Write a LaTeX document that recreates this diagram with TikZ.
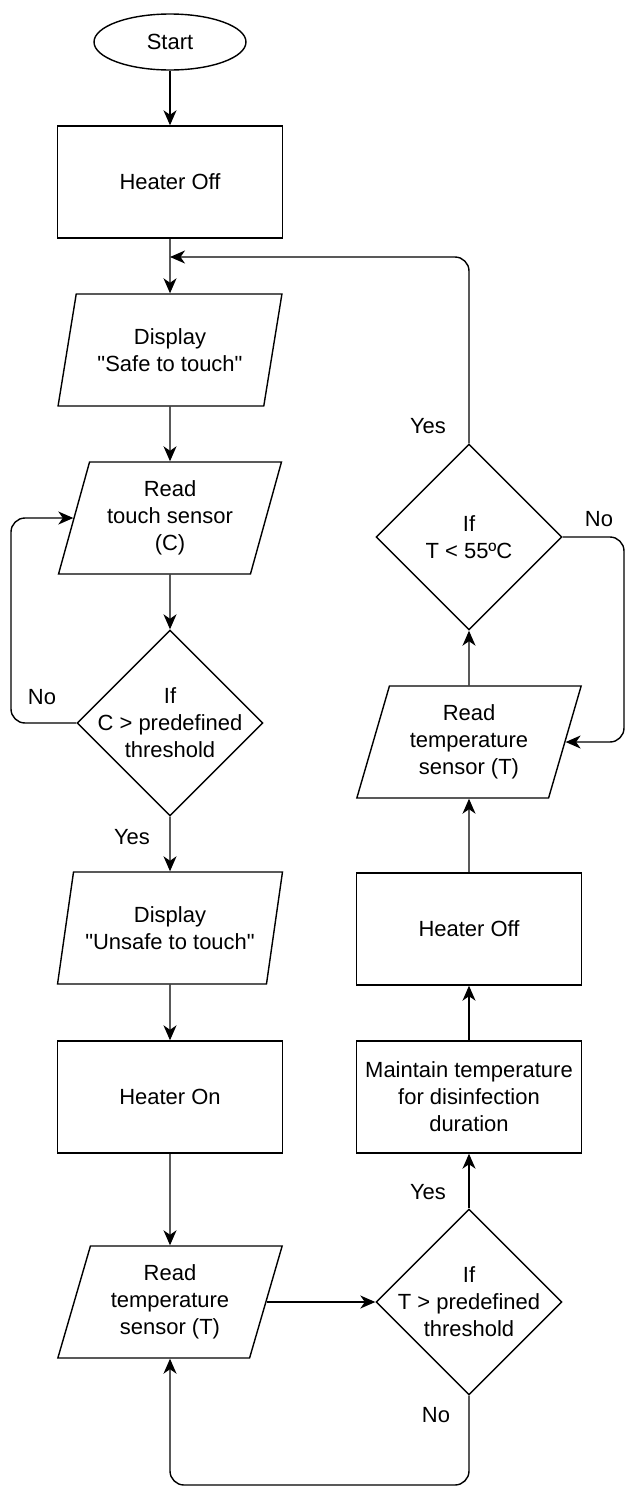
\documentclass[tikz,border=0pt]{standalone}
\usepackage{fontspec}
\setmainfont{Liberation Sans}[Ligatures=TeXOff]
\usetikzlibrary{shapes.geometric,arrows.meta}
\begin{document}
\begin{tikzpicture}[x=0.02cm,y=-0.02cm,
  every node/.style={font=\fontsize{12.5}{15.4}\selectfont, align=center},
  line/.style={line width=0.8pt},
  arr/.style={line, -{Stealth[length=3mm,width=2.6mm,inset=0.9mm]}},
  box/.style={draw, line width=0.8pt, rectangle, minimum width=4.5cm, minimum height=2.24cm, inner sep=0pt},
  io/.style={draw, line width=0.8pt, trapezium, trapezium left angle=72, trapezium right angle=108, trapezium stretches=true, minimum width=4.5cm, minimum height=2.24cm, inner sep=0pt},
  dec/.style={draw, line width=0.8pt, diamond, aspect=1, minimum width=3.72cm, minimum height=3.72cm, inner sep=0pt, label={[align=center]center:#1}},
  term/.style={draw, line width=0.8pt, ellipse, minimum width=3.04cm, minimum height=1.12cm, inner sep=0pt}
]
\useasboundingbox (0,0) rectangle (627,1488);

% left column
\node[term] (start) at (170,42) {Start};
\node[box] (h1) at (170,182) {Heater Off};
\node[io] (disp1) at (170,350) {Display\\"Safe to touch"};
\node[io] (read1) at (170,518) {Read\\touch sensor\\(C)};
\node[dec={If\\C > predefined\\threshold}] (dia1) at (170,723) {};
\node[io] (disp2) at (170,928) {Display\\"Unsafe to touch"};
\node[box] (hon) at (170,1097) {Heater On};
\node[io] (read3) at (170,1302) {Read\\temperature\\sensor (T)};

% right column
\node[dec={If\\T > predefined\\threshold}] (dia3) at (469,1302) {};
\node[box] (maint) at (469,1097) {Maintain temperature\\for disinfection\\duration};
\node[box] (h2) at (469,929) {Heater Off};
\node[io] (read2) at (469,742) {Read\\temperature\\sensor (T)};
\node[dec={If\\T < 55ºC}] (dia2) at (469,537) {};

\coordinate (merge) at (170,257);

% labels
\node (yes1) at (132,837) {Yes};
\node (no1) at (42,697) {No};
\node (yes2) at (428,426) {Yes};
\node (no2) at (599,519) {No};
\node (yes3) at (428,1192) {Yes};
\node (no3) at (436,1415) {No};

% connectors
\draw[arr] (start) -- (h1);
\draw[arr] (h1) -- (disp1);
\draw[arr] (disp1) -- (read1);
\draw[arr] (read1) -- (dia1);
\draw[arr, rounded corners=8pt] (dia1.west) -| (11,518) -- (read1.left side);
\draw[arr] (dia1) -- (disp2);
\draw[arr] (disp2) -- (hon);
\draw[arr] (hon) -- (read3);
\draw[arr] (read3.right side) -- (dia3.west);
\draw[arr, rounded corners=8pt] (dia3.south) |- (170,1485) -- (read3.south);
\draw[arr] (dia3) -- (maint);
\draw[arr] (maint) -- (h2);
\draw[arr] (h2) -- (read2);
\draw[arr] (read2) -- (dia2);
\draw[arr, rounded corners=8pt] (dia2.east) -| (624,742) -- (read2.right side);
\draw[arr, rounded corners=8pt] (dia2.north) |- (merge);
\end{tikzpicture}
\end{document}
